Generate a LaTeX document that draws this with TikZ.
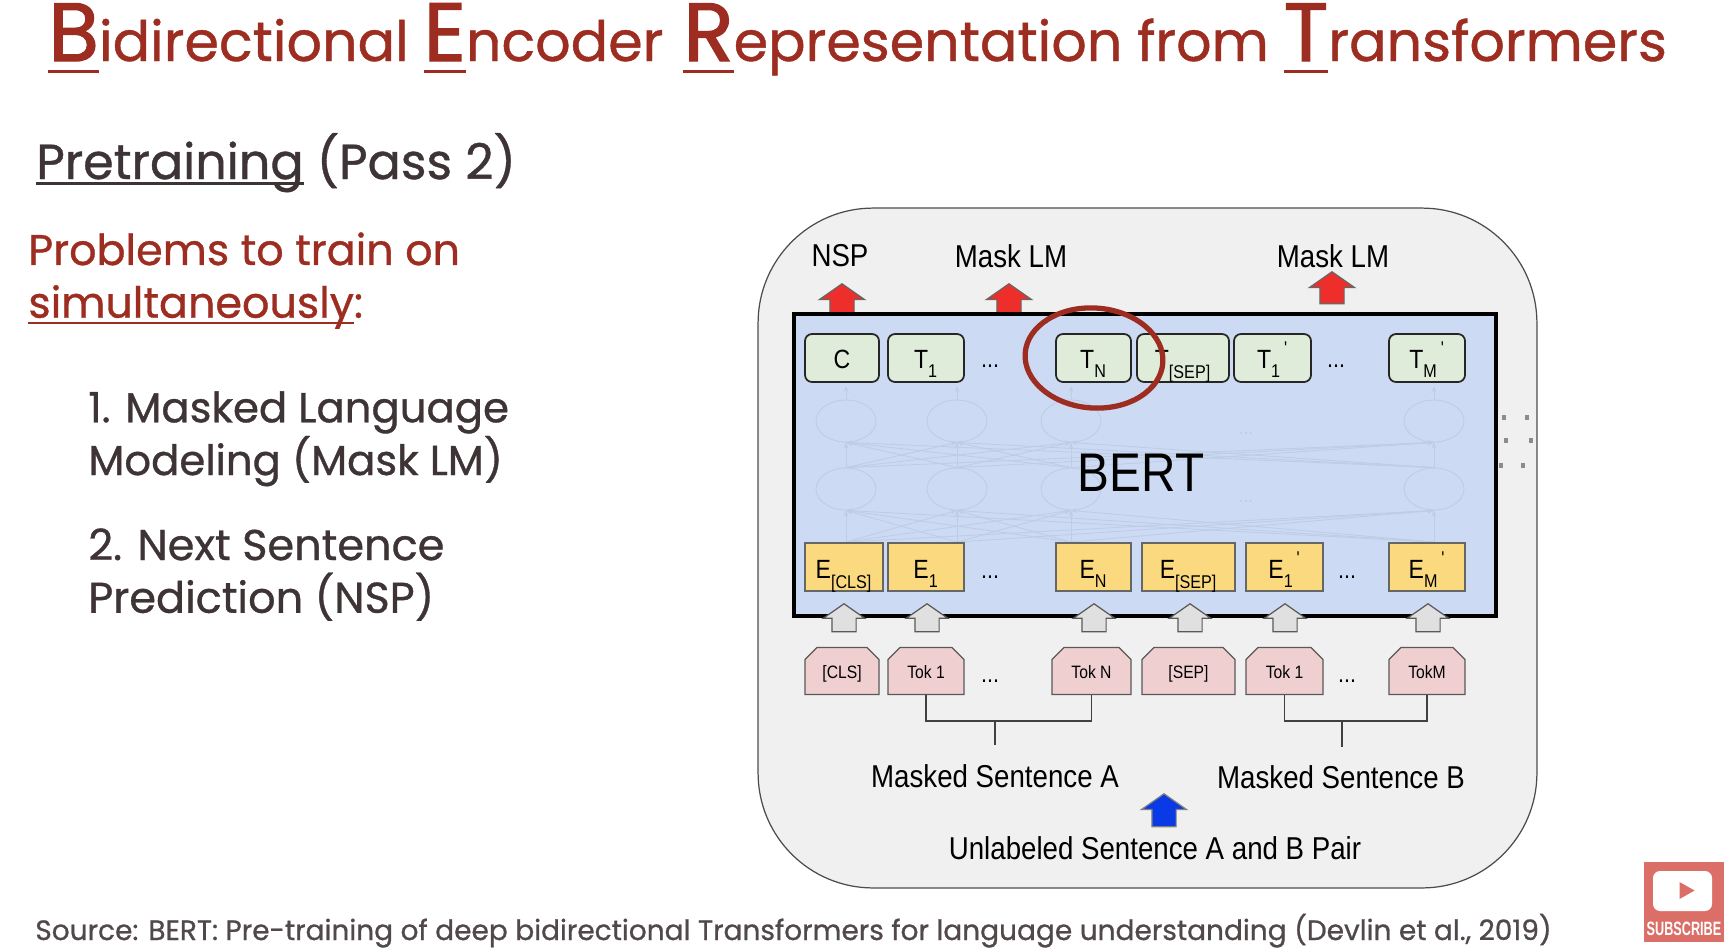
\documentclass[tikz,border=0pt]{standalone}
\usepackage{fontspec}
\usepackage{xcolor}
\usepackage{tikz}
\usetikzlibrary{positioning,arrows.meta,shapes.geometric,shapes.arrows,shapes.misc}
\setmainfont{Poppins}
\newfontfamily\slidemed[FakeBold=0.8]{Poppins}
\newfontfamily\slidebold[FakeBold=1.6]{Poppins}
\newfontfamily\figfont[FakeStretch=0.875]{Liberation Sans}
\definecolor{slidered}{HTML}{9C2D20}
\definecolor{slidegray}{HTML}{3E3436}
\definecolor{panelbg}{HTML}{F0F0F0}
\definecolor{bertbg}{HTML}{CDDAF3}
\definecolor{meshc}{HTML}{BFCCE6}
\definecolor{ytbg}{HTML}{DB6F68}
\definecolor{encfill}{HTML}{DFECD9}
\definecolor{embfill}{HTML}{FAD97F}
\definecolor{tokfill}{HTML}{F0CFD0}
\definecolor{predred}{HTML}{EE2E2A}
\definecolor{inblue}{HTML}{0A3AE6}
\newcommand{\ulbar}[3]{\setbox0\hbox{#3}\rlap{\rule[-#1]{\wd0}{#2}}\box0\relax}
\newcommand{\bigcapl}[1]{\ulbar{7pt}{1.7pt}{\slidebold\fontsize{47}{50}\selectfont #1}}
\newcommand{\subl}[1]{\raisebox{-0.4ex}{\textsubscript{#1}}}
\newcommand{\supl}{\raisebox{0.3ex}{\textsuperscript{\,'}}}

\begin{document}
\begin{tikzpicture}[
    x=0.02cm, y=-0.02cm,
    wd/.style={minimum width=#1*0.02cm},
    enc/.style={draw=black!85, fill=encfill, rounded corners=4pt, minimum height=0.96cm,
                text height=14.5pt, text depth=3pt,
                inner sep=0pt, line width=1pt, font=\figfont\fontsize{15}{16}\selectfont},
    emb/.style={draw=black!60, fill=embfill, minimum height=0.96cm, inner sep=0pt,
                text height=15pt, text depth=2.2pt,
                line width=0.7pt, font=\figfont\fontsize{15}{16}\selectfont},
    tok/.style={chamfered rectangle, chamfered rectangle corners={north west,north east},
                chamfered rectangle xsep=0.12cm, chamfered rectangle ysep=0.12cm,
                draw=black!65, fill=tokfill, minimum height=0.94cm, inner sep=0pt,
                text height=10pt, text depth=1pt,
                line width=0.7pt, font=\figfont\fontsize{10.2}{11}\selectfont},
    dotsl/.style={font=\figfont\fontsize{14}{15}\selectfont},
    lbl/.style={font=\figfont\fontsize{18}{20}\selectfont},
    hop/.style={single arrow, draw=black!65, inner xsep=0pt, inner ysep=0.23cm, rotate=90,
                minimum height=0.56cm, single arrow head extend=0.17cm,
                single arrow tip angle=110, fill=black!12, line width=0.7pt},
    pred/.style={hop, fill=predred, draw=black!60, single arrow head extend=0.21cm},
    unit/.style={ellipse, draw=meshc, minimum width=1.2cm, minimum height=0.84cm, inner sep=0pt, line width=0.5pt},
    faint/.style={draw=meshc, line width=0.5pt},
    fdots/.style={text=meshc, font=\figfont\fontsize{11}{12}\selectfont},
    speck/.style={fill=black!45, minimum width=0.08cm, minimum height=0.1cm, inner sep=0pt},
    wire/.style={draw=black!75, line width=0.7pt}
  ]
  \useasboundingbox (0,0) rectangle (1734,948);

  % Slide text on the left.
  \node[anchor=base west, inner sep=0pt, text=slidered, font=\slidemed\fontsize{31.6}{34}\selectfont] (title) at (48,61)
    {\bigcapl{B}idirectional \bigcapl{E}ncoder \kern3pt\bigcapl{R}epresentation from \bigcapl{T}ransformers};
  \node[anchor=base west, inner sep=0pt, text=slidegray, font=\slidemed\fontsize{28}{30}\selectfont] (pass) at (36,179)
    {\ulbar{3.5pt}{1.7pt}{Pretraining} (Pass 2)};
  \node[anchor=north west, inner sep=0pt, align=left, text=slidered, font=\slidemed\fontsize{24.4}{30}\selectfont] (probs) at (28,232)
    {Problems to train on\\\ulbar{3.5pt}{1.2pt}{simultaneously}:};
  \node[anchor=north west, inner sep=0pt, align=left, text=slidegray, font=\slidemed\fontsize{23.8}{30}\selectfont] (item1) at (88,391)
    {1. Masked Language\\Modeling (Mask LM)};
  \node[anchor=north west, inner sep=0pt, align=left, text=slidegray, font=\slidemed\fontsize{24.5}{30}\selectfont] (item2) at (88,528)
    {2. Next Sentence\\Prediction (NSP)};
  \node[anchor=base west, inner sep=0pt, text=slidegray!90, font=\slidemed\fontsize{15.94}{17}\selectfont] (src) at (35,940)
    {Source: BERT: Pre-training of deep bidirectional Transformers for language understanding (Devlin et al., 2019)};

  % Panel and encoder box.
  \node[draw=black!70, fill=panelbg, rounded corners=2.3cm, minimum width=15.58cm, minimum height=13.6cm,
        inner sep=0pt, line width=0.7pt] (panel) at (1147.5,548) {};
  \node[pred, minimum height=0.6cm] (rnsp) at (842,303) {};
  \node[pred, minimum height=0.6cm] (rma) at (1009,303) {};
  \node[pred, minimum height=0.64cm] (rmb) at (1332,292) {};
  \node[draw=black, fill=bertbg, line width=1.8pt, minimum width=14.04cm, minimum height=6.04cm,
        inner sep=0pt] (bert) at (1145,465) {};

  \node[lbl] (lnsp) at (840,256) {NSP};
  \node[lbl] (lma) at (1011,256) {Mask LM};
  \node[lbl] (lmb) at (1333,256) {Mask LM};

  % Faint network behind the name.
  \node[unit] (u0) at (846,421) {};
  \node[unit] (u1) at (957,421) {};
  \node[unit] (u2) at (1071,421) {};
  \node[unit] (u3) at (1434,421) {};
  \node[unit] (l0) at (846,489) {};
  \node[unit] (l1) at (957,489) {};
  \node[unit] (l2) at (1071,489) {};
  \node[unit] (l3) at (1434,489) {};
  \coordinate (t0) at (846,386);
  \coordinate (t1) at (957,386);
  \coordinate (t2) at (1071,386);
  \coordinate (t3) at (1434,386);
  \coordinate (b0) at (846,542);
  \coordinate (b1) at (957,542);
  \coordinate (b2) at (1071,542);
  \coordinate (b3) at (1434,542);
  \foreach \i in {0,...,3} {
    \draw[faint, -{Stealth[length=1.2mm]}] (u\i.north) -- (t\i);
    \foreach \j in {0,...,3} {
      \draw[faint, -{Stealth[length=1.2mm]}] (l\i.north) -- (u\j.south);
      \draw[faint, -{Stealth[length=1.2mm]}] (b\i) -- (l\j.south);
    }
  }
  \node[fdots] (f0) at (1246,433) {...};
  \node[fdots] (f1) at (1246,501) {...};
  \node[font=\figfont\fontsize{31}{32}\selectfont] (name) at (1141,473) {BERT};

  % Output row.
  \node[enc, wd=74] (c) at (842,358) {C};
  \node[enc, wd=76] (t1a) at (926,358) {T\subl{1}};
  \node[dotsl] (dt1) at (990,366) {...};
  \node[enc, wd=75] (tn) at (1093.5,358) {T\subl{N}};
  \node[enc, wd=92] (tsep) at (1183,358) {T\subl{[SEP]}};
  \node[enc, wd=77] (t1b) at (1272.5,358) {T\subl{1}\supl};
  \node[dotsl] (dt2) at (1336,366) {...};
  \node[enc, wd=76] (tmb) at (1427,358) {T\subl{M}\supl};

  % Embedding row.
  \node[emb, wd=78] (ecls) at (844,567) {E\subl{[CLS]}};
  \node[emb, wd=76] (e1a) at (926,567) {E\subl{1}};
  \node[dotsl] (de1) at (990,577) {...};
  \node[emb, wd=75] (en) at (1093.5,567) {E\subl{N}};
  \node[emb, wd=93] (esep) at (1188.5,567) {E\subl{[SEP]}};
  \node[emb, wd=77] (e1b) at (1284.5,567) {E\subl{1}\supl};
  \node[dotsl] (de2) at (1347,577) {...};
  \node[emb, wd=76] (emb2) at (1427,567) {E\subl{M}\supl};

  % Token row.
  \node[tok, wd=74] (kcls) at (842,671) {[CLS]};
  \node[tok, wd=76] (k1a) at (926,671) {Tok 1};
  \node[dotsl] (dk1) at (990,681) {...};
  \node[tok, wd=79] (kn) at (1091.5,671) {Tok N};
  \node[tok, wd=93] (ksep) at (1188.5,671) {[SEP]};
  \node[tok, wd=77] (k1b) at (1284.5,671) {Tok 1};
  \node[dotsl] (dk2) at (1347,681) {...};
  \node[tok, wd=76] (kmb) at (1427,671) {TokM};

  \node[hop] (h0) at (844,622) {};
  \node[hop] (h1) at (927,622) {};
  \node[hop] (h2) at (1094,622) {};
  \node[hop] (h3) at (1190,622) {};
  \node[hop] (h4) at (1285,622) {};
  \node[hop] (h5) at (1428,622) {};

  % Tokens joined to their sentence.
  \node[lbl] (sa) at (995,776) {Masked Sentence A};
  \node[lbl] (sb) at (1341,777) {Masked Sentence B};
  \node[lbl] (pair) at (1155,848) {Unlabeled Sentence A and B Pair};
  \coordinate (ja) at (995,721);
  \coordinate (jb) at (1342,721);
  \coordinate (ea) at (995,745);
  \coordinate (eb) at (1342,747);
  \draw[wire] (k1a.south) |- (ja) -| (kn.south);
  \draw[wire] (k1b.south) |- (jb) -| (kmb.south);
  \draw[wire] (ja) -- (ea);
  \draw[wire] (jb) -- (eb);
  \node[pred, fill=inblue, draw=black!50, minimum height=0.66cm] (binp) at (1164,814.5) {};

  \node[speck] (s0) at (1504,417) {};
  \node[speck] (s1) at (1527,417) {};
  \node[speck] (s2) at (1506,440) {};
  \node[speck] (s3) at (1531,440) {};
  \node[speck] (s4) at (1501,465) {};
  \node[speck] (s5) at (1523,465) {};

  % Hand drawn ring over the output row.
  \node[ellipse, draw=slidered, line width=3pt, minimum width=2.76cm, minimum height=2cm,
        inner sep=0pt, rotate=-4] (ring) at (1094,358) {};

  % Corner badge.
  \node[fill=ytbg, minimum width=1.6cm, minimum height=1.6cm, inner sep=0pt] (yt) at (1684,902) {};
  \node[fill=white, rounded corners=4pt, minimum width=1.18cm, minimum height=0.8cm, inner sep=0pt] (ytbtn) at (1682.5,891) {};
  \node[isosceles triangle, fill=ytbg, minimum height=0.3cm, minimum width=0.34cm, inner sep=0pt,
        isosceles triangle stretches] (ytplay) at (1684.5,890.5) {};
  \node[text=white, inner sep=0pt, font=\figfont\bfseries\fontsize{11}{12}\selectfont] (yttxt) at (1684,929)
    {\scalebox{0.75}[1]{SUBSCRIBE}};
\end{tikzpicture}
\end{document}
